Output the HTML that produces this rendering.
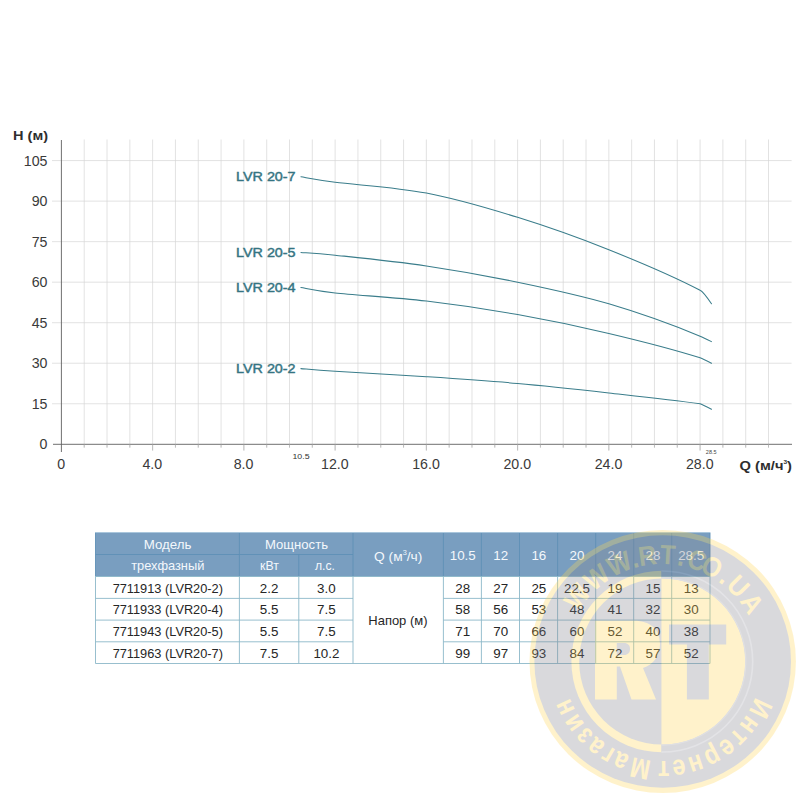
<!DOCTYPE html>
<html><head><meta charset="utf-8"><title>LVR 20</title>
<style>
html,body{margin:0;padding:0;background:#fff;}
body{width:800px;height:800px;overflow:hidden;font-family:"Liberation Sans",sans-serif;}
svg{display:block;}
text{font-family:"Liberation Sans",sans-serif;}
</style></head><body>
<svg width="800" height="800" viewBox="0 0 800 800">
<rect width="800" height="800" fill="#ffffff"/>

<g stroke="#d5d5d5" stroke-width="0.7" fill="none">
<line x1="84.21" y1="139.5" x2="84.21" y2="447.6"/>
<line x1="107.02" y1="139.5" x2="107.02" y2="447.6"/>
<line x1="129.83" y1="139.5" x2="129.83" y2="447.6"/>
<line x1="152.64" y1="139.5" x2="152.64" y2="450.5"/>
<line x1="175.45" y1="139.5" x2="175.45" y2="447.6"/>
<line x1="198.26" y1="139.5" x2="198.26" y2="447.6"/>
<line x1="221.07" y1="139.5" x2="221.07" y2="447.6"/>
<line x1="243.88" y1="139.5" x2="243.88" y2="450.5"/>
<line x1="266.69" y1="139.5" x2="266.69" y2="447.6"/>
<line x1="289.50" y1="139.5" x2="289.50" y2="447.6"/>
<line x1="312.31" y1="139.5" x2="312.31" y2="447.6"/>
<line x1="335.12" y1="139.5" x2="335.12" y2="450.5"/>
<line x1="357.93" y1="139.5" x2="357.93" y2="447.6"/>
<line x1="380.74" y1="139.5" x2="380.74" y2="447.6"/>
<line x1="403.55" y1="139.5" x2="403.55" y2="447.6"/>
<line x1="426.36" y1="139.5" x2="426.36" y2="450.5"/>
<line x1="449.17" y1="139.5" x2="449.17" y2="447.6"/>
<line x1="471.98" y1="139.5" x2="471.98" y2="447.6"/>
<line x1="494.79" y1="139.5" x2="494.79" y2="447.6"/>
<line x1="517.60" y1="139.5" x2="517.60" y2="450.5"/>
<line x1="540.41" y1="139.5" x2="540.41" y2="447.6"/>
<line x1="563.22" y1="139.5" x2="563.22" y2="447.6"/>
<line x1="586.03" y1="139.5" x2="586.03" y2="447.6"/>
<line x1="608.84" y1="139.5" x2="608.84" y2="450.5"/>
<line x1="631.65" y1="139.5" x2="631.65" y2="447.6"/>
<line x1="654.46" y1="139.5" x2="654.46" y2="447.6"/>
<line x1="677.27" y1="139.5" x2="677.27" y2="447.6"/>
<line x1="700.08" y1="139.5" x2="700.08" y2="450.5"/>
<line x1="722.89" y1="139.5" x2="722.89" y2="447.6"/>
<line x1="745.70" y1="139.5" x2="745.70" y2="447.6"/>
<line x1="768.51" y1="139.5" x2="768.51" y2="447.6"/>
<line x1="52" y1="403.77" x2="791.6" y2="403.77"/>
<line x1="52" y1="363.24" x2="791.6" y2="363.24"/>
<line x1="52" y1="322.71" x2="791.6" y2="322.71"/>
<line x1="52" y1="282.18" x2="791.6" y2="282.18"/>
<line x1="52" y1="241.65" x2="791.6" y2="241.65"/>
<line x1="52" y1="201.12" x2="791.6" y2="201.12"/>
<line x1="52" y1="160.59" x2="791.6" y2="160.59"/>
</g>
<g stroke="#606060" stroke-width="0.9" fill="none">
<line x1="61.40" y1="140" x2="61.40" y2="452"/>
<line x1="53" y1="444.30" x2="792" y2="444.30"/>
</g>
<g stroke="#b0b0b0" stroke-width="0.75" fill="none">
<line x1="84.21" y1="444.30" x2="84.21" y2="447.6"/>
<line x1="107.02" y1="444.30" x2="107.02" y2="447.6"/>
<line x1="129.83" y1="444.30" x2="129.83" y2="447.6"/>
<line x1="152.64" y1="444.30" x2="152.64" y2="450.5"/>
<line x1="175.45" y1="444.30" x2="175.45" y2="447.6"/>
<line x1="198.26" y1="444.30" x2="198.26" y2="447.6"/>
<line x1="221.07" y1="444.30" x2="221.07" y2="447.6"/>
<line x1="243.88" y1="444.30" x2="243.88" y2="450.5"/>
<line x1="266.69" y1="444.30" x2="266.69" y2="447.6"/>
<line x1="289.50" y1="444.30" x2="289.50" y2="447.6"/>
<line x1="312.31" y1="444.30" x2="312.31" y2="447.6"/>
<line x1="335.12" y1="444.30" x2="335.12" y2="450.5"/>
<line x1="357.93" y1="444.30" x2="357.93" y2="447.6"/>
<line x1="380.74" y1="444.30" x2="380.74" y2="447.6"/>
<line x1="403.55" y1="444.30" x2="403.55" y2="447.6"/>
<line x1="426.36" y1="444.30" x2="426.36" y2="450.5"/>
<line x1="449.17" y1="444.30" x2="449.17" y2="447.6"/>
<line x1="471.98" y1="444.30" x2="471.98" y2="447.6"/>
<line x1="494.79" y1="444.30" x2="494.79" y2="447.6"/>
<line x1="517.60" y1="444.30" x2="517.60" y2="450.5"/>
<line x1="540.41" y1="444.30" x2="540.41" y2="447.6"/>
<line x1="563.22" y1="444.30" x2="563.22" y2="447.6"/>
<line x1="586.03" y1="444.30" x2="586.03" y2="447.6"/>
<line x1="608.84" y1="444.30" x2="608.84" y2="450.5"/>
<line x1="631.65" y1="444.30" x2="631.65" y2="447.6"/>
<line x1="654.46" y1="444.30" x2="654.46" y2="447.6"/>
<line x1="677.27" y1="444.30" x2="677.27" y2="447.6"/>
<line x1="700.08" y1="444.30" x2="700.08" y2="450.5"/>
<line x1="722.89" y1="444.30" x2="722.89" y2="447.6"/>
<line x1="745.70" y1="444.30" x2="745.70" y2="447.6"/>
<line x1="768.51" y1="444.30" x2="768.51" y2="447.6"/>
</g>
<g fill="#3a3a3a" font-size="14.2px">
<text x="47.5" y="449.30" text-anchor="end">0</text>
<text x="47.5" y="408.77" text-anchor="end">15</text>
<text x="47.5" y="368.24" text-anchor="end">30</text>
<text x="47.5" y="327.71" text-anchor="end">45</text>
<text x="47.5" y="287.18" text-anchor="end">60</text>
<text x="47.5" y="246.65" text-anchor="end">75</text>
<text x="47.5" y="206.12" text-anchor="end">90</text>
<text x="47.5" y="165.59" text-anchor="end">105</text>
<text x="61.10" y="469.2" text-anchor="middle">0</text>
<text x="152.34" y="469.2" text-anchor="middle">4.0</text>
<text x="243.58" y="469.2" text-anchor="middle">8.0</text>
<text x="334.82" y="469.2" text-anchor="middle">12.0</text>
<text x="426.06" y="469.2" text-anchor="middle">16.0</text>
<text x="517.30" y="469.2" text-anchor="middle">20.0</text>
<text x="608.54" y="469.2" text-anchor="middle">24.0</text>
<text x="699.78" y="469.2" text-anchor="middle">28.0</text>
</g>
<text transform="translate(13,139.6) scale(1.12,1)" font-size="13px" font-weight="bold" fill="#2e2e2e">H (м)</text>
<text transform="translate(739.5,469.6) scale(1.09,1)" font-size="13.5px" font-weight="bold" fill="#2e2e2e">Q (м/ч<tspan font-size="6px" dy="-6">3</tspan><tspan dy="6">)</tspan></text>
<text transform="translate(301,459.2) scale(1.1,1)" font-size="8px" text-anchor="middle" fill="#333">10.5</text>
<text x="711.2" y="454" font-size="5.5px" text-anchor="middle" fill="#444">28.5</text>
<g stroke="#3a7d8b" stroke-width="1.05" fill="none" stroke-linecap="round" stroke-linejoin="round">
<path d="M300.90,176.80 C306.61,177.70 314.21,179.50 335.12,182.21 C356.03,184.91 395.95,187.16 426.36,193.01 C456.77,198.87 487.19,207.88 517.60,217.33 C548.01,226.79 578.43,237.60 608.84,249.76 C639.25,261.92 669.67,274.41 700.08,290.29 Q703.08,291.49 711.48,303.80"/>
<path d="M300.90,252.46 C306.61,252.91 314.21,252.91 335.12,255.16 C356.03,257.41 395.95,261.46 426.36,265.97 C456.77,270.47 487.19,275.88 517.60,282.18 C548.01,288.48 578.43,294.79 608.84,303.80 C639.25,312.80 669.67,323.52 700.08,336.22 Q703.08,337.42 711.48,341.62"/>
<path d="M300.90,287.58 C306.61,288.48 314.21,290.74 335.12,292.99 C356.03,295.24 395.95,297.49 426.36,301.09 C456.77,304.70 487.19,309.20 517.60,314.60 C548.01,320.01 578.43,326.31 608.84,333.52 C639.25,340.72 669.67,348.31 700.08,357.84 Q703.08,359.04 711.48,363.24"/>
<path d="M300.90,368.64 C306.61,369.09 314.21,370.00 335.12,371.35 C356.03,372.70 395.95,374.72 426.36,376.75 C456.77,378.78 487.19,380.80 517.60,383.50 C548.01,386.21 578.43,389.58 608.84,392.96 C639.25,396.34 669.67,399.54 700.08,403.77 Q703.08,404.97 711.48,409.17"/>
</g>
<g fill="#357482" stroke="#357482" stroke-width="0.45" font-size="13.6px">
<text transform="translate(295.6,181.20) scale(1.055,1)" text-anchor="end">LVR 20-7</text>
<text transform="translate(295.6,256.86) scale(1.055,1)" text-anchor="end">LVR 20-5</text>
<text transform="translate(295.6,291.98) scale(1.055,1)" text-anchor="end">LVR 20-4</text>
<text transform="translate(295.6,373.04) scale(1.055,1)" text-anchor="end">LVR 20-2</text>
</g>
<rect x="95.5" y="532.5" width="614.5" height="44.0" fill="#799ec0"/>
<g stroke="#5f90b6" stroke-width="0.9" fill="none">
<line x1="95.5" y1="554.5" x2="353.0" y2="554.5"/>
<line x1="95.5" y1="532.5" x2="95.5" y2="576.5"/>
<line x1="239.4" y1="532.5" x2="239.4" y2="576.5"/>
<line x1="298.8" y1="554.5" x2="298.8" y2="576.5"/>
<line x1="353.0" y1="532.5" x2="353.0" y2="576.5"/>
<line x1="443.4" y1="532.5" x2="443.4" y2="576.5"/>
<line x1="481.4" y1="532.5" x2="481.4" y2="576.5"/>
<line x1="519.5" y1="532.5" x2="519.5" y2="576.5"/>
<line x1="557.6" y1="532.5" x2="557.6" y2="576.5"/>
<line x1="595.7" y1="532.5" x2="595.7" y2="576.5"/>
<line x1="633.7" y1="532.5" x2="633.7" y2="576.5"/>
<line x1="671.7" y1="532.5" x2="671.7" y2="576.5"/>
<line x1="710.0" y1="532.5" x2="710.0" y2="576.5"/>
</g>
<line x1="95.5" y1="532.5" x2="710.0" y2="532.5" stroke="#a9c6dc" stroke-width="1"/>
<g stroke="#8cb8c8" stroke-width="0.9" fill="none">
<line x1="95.5" y1="576.5" x2="95.5" y2="663.5"/>
<line x1="239.4" y1="576.5" x2="239.4" y2="663.5"/>
<line x1="298.8" y1="576.5" x2="298.8" y2="663.5"/>
<line x1="353.0" y1="576.5" x2="353.0" y2="663.5"/>
<line x1="443.4" y1="576.5" x2="443.4" y2="663.5"/>
<line x1="481.4" y1="576.5" x2="481.4" y2="663.5"/>
<line x1="519.5" y1="576.5" x2="519.5" y2="663.5"/>
<line x1="557.6" y1="576.5" x2="557.6" y2="663.5"/>
<line x1="595.7" y1="576.5" x2="595.7" y2="663.5"/>
<line x1="633.7" y1="576.5" x2="633.7" y2="663.5"/>
<line x1="671.7" y1="576.5" x2="671.7" y2="663.5"/>
<line x1="710.0" y1="576.5" x2="710.0" y2="663.5"/>
<line x1="95.5" y1="576.5" x2="710.0" y2="576.5"/>
<line x1="95.5" y1="598.4" x2="353.0" y2="598.4"/>
<line x1="443.4" y1="598.4" x2="710.0" y2="598.4"/>
<line x1="95.5" y1="620.1" x2="353.0" y2="620.1"/>
<line x1="443.4" y1="620.1" x2="710.0" y2="620.1"/>
<line x1="95.5" y1="641.8" x2="353.0" y2="641.8"/>
<line x1="443.4" y1="641.8" x2="710.0" y2="641.8"/>
<line x1="95.5" y1="663.5" x2="710.0" y2="663.5"/>
</g>
<text transform="translate(167.60,548.70) scale(1.024,1)" text-anchor="middle" font-size="13px" fill="#f4f8fc">Модель</text>
<text transform="translate(167.80,570.00) scale(0.990,1)" text-anchor="middle" font-size="13px" fill="#f4f8fc">трехфазный</text>
<text transform="translate(296.50,548.70) scale(1.007,1)" text-anchor="middle" font-size="13px" fill="#f4f8fc">Мощность</text>
<text transform="translate(269.40,570.00) scale(0.943,1)" text-anchor="middle" font-size="13px" fill="#f4f8fc">кВт</text>
<text transform="translate(325.00,570.00) scale(0.939,1)" text-anchor="middle" font-size="13px" fill="#f4f8fc">л.с.</text>
<text transform="translate(398.2,560.6) scale(1.06,1)" text-anchor="middle" font-size="13px" fill="#f4f8fc">Q (м<tspan font-size="7px" dy="-5.5">3</tspan><tspan dy="5.5">/ч)</tspan></text>
<text transform="translate(462.70,560.20) scale(1.030,1)" text-anchor="middle" font-size="13px" fill="#f4f8fc">10.5</text>
<text transform="translate(500.75,560.20) scale(1.030,1)" text-anchor="middle" font-size="13px" fill="#f4f8fc">12</text>
<text transform="translate(538.85,560.20) scale(1.030,1)" text-anchor="middle" font-size="13px" fill="#f4f8fc">16</text>
<text transform="translate(576.95,560.20) scale(1.030,1)" text-anchor="middle" font-size="13px" fill="#f4f8fc">20</text>
<text transform="translate(615.00,560.20) scale(1.030,1)" text-anchor="middle" font-size="13px" fill="#f4f8fc">24</text>
<text transform="translate(653.00,560.20) scale(1.030,1)" text-anchor="middle" font-size="13px" fill="#f4f8fc">28</text>
<text transform="translate(691.15,560.20) scale(1.030,1)" text-anchor="middle" font-size="13px" fill="#f4f8fc">28.5</text>
<text transform="translate(167.80,592.50) scale(0.984,1)" text-anchor="middle" font-size="13px" fill="#262626">7711913 (LVR20-2)</text>
<text transform="translate(269.10,592.50) scale(1.030,1)" text-anchor="middle" font-size="13px" fill="#262626">2.2</text>
<text transform="translate(326.40,592.50) scale(1.030,1)" text-anchor="middle" font-size="13px" fill="#262626">3.0</text>
<text transform="translate(462.70,592.50) scale(1.030,1)" text-anchor="middle" font-size="13px" fill="#262626">28</text>
<text transform="translate(500.75,592.50) scale(1.030,1)" text-anchor="middle" font-size="13px" fill="#262626">27</text>
<text transform="translate(538.85,592.50) scale(1.030,1)" text-anchor="middle" font-size="13px" fill="#262626">25</text>
<text transform="translate(576.95,592.50) scale(1.030,1)" text-anchor="middle" font-size="13px" fill="#262626">22.5</text>
<text transform="translate(615.00,592.50) scale(1.030,1)" text-anchor="middle" font-size="13px" fill="#262626">19</text>
<text transform="translate(653.00,592.50) scale(1.030,1)" text-anchor="middle" font-size="13px" fill="#262626">15</text>
<text transform="translate(691.15,592.50) scale(1.030,1)" text-anchor="middle" font-size="13px" fill="#262626">13</text>
<text transform="translate(167.80,614.30) scale(0.984,1)" text-anchor="middle" font-size="13px" fill="#262626">7711933 (LVR20-4)</text>
<text transform="translate(269.10,614.30) scale(1.030,1)" text-anchor="middle" font-size="13px" fill="#262626">5.5</text>
<text transform="translate(326.40,614.30) scale(1.030,1)" text-anchor="middle" font-size="13px" fill="#262626">7.5</text>
<text transform="translate(462.70,614.30) scale(1.030,1)" text-anchor="middle" font-size="13px" fill="#262626">58</text>
<text transform="translate(500.75,614.30) scale(1.030,1)" text-anchor="middle" font-size="13px" fill="#262626">56</text>
<text transform="translate(538.85,614.30) scale(1.030,1)" text-anchor="middle" font-size="13px" fill="#262626">53</text>
<text transform="translate(576.95,614.30) scale(1.030,1)" text-anchor="middle" font-size="13px" fill="#262626">48</text>
<text transform="translate(615.00,614.30) scale(1.030,1)" text-anchor="middle" font-size="13px" fill="#262626">41</text>
<text transform="translate(653.00,614.30) scale(1.030,1)" text-anchor="middle" font-size="13px" fill="#262626">32</text>
<text transform="translate(691.15,614.30) scale(1.030,1)" text-anchor="middle" font-size="13px" fill="#262626">30</text>
<text transform="translate(167.80,636.00) scale(0.984,1)" text-anchor="middle" font-size="13px" fill="#262626">7711943 (LVR20-5)</text>
<text transform="translate(269.10,636.00) scale(1.030,1)" text-anchor="middle" font-size="13px" fill="#262626">5.5</text>
<text transform="translate(326.40,636.00) scale(1.030,1)" text-anchor="middle" font-size="13px" fill="#262626">7.5</text>
<text transform="translate(462.70,636.00) scale(1.030,1)" text-anchor="middle" font-size="13px" fill="#262626">71</text>
<text transform="translate(500.75,636.00) scale(1.030,1)" text-anchor="middle" font-size="13px" fill="#262626">70</text>
<text transform="translate(538.85,636.00) scale(1.030,1)" text-anchor="middle" font-size="13px" fill="#262626">66</text>
<text transform="translate(576.95,636.00) scale(1.030,1)" text-anchor="middle" font-size="13px" fill="#262626">60</text>
<text transform="translate(615.00,636.00) scale(1.030,1)" text-anchor="middle" font-size="13px" fill="#262626">52</text>
<text transform="translate(653.00,636.00) scale(1.030,1)" text-anchor="middle" font-size="13px" fill="#262626">40</text>
<text transform="translate(691.15,636.00) scale(1.030,1)" text-anchor="middle" font-size="13px" fill="#262626">38</text>
<text transform="translate(167.80,657.70) scale(0.984,1)" text-anchor="middle" font-size="13px" fill="#262626">7711963 (LVR20-7)</text>
<text transform="translate(269.10,657.70) scale(1.030,1)" text-anchor="middle" font-size="13px" fill="#262626">7.5</text>
<text transform="translate(326.40,657.70) scale(1.030,1)" text-anchor="middle" font-size="13px" fill="#262626">10.2</text>
<text transform="translate(462.70,657.70) scale(1.030,1)" text-anchor="middle" font-size="13px" fill="#262626">99</text>
<text transform="translate(500.75,657.70) scale(1.030,1)" text-anchor="middle" font-size="13px" fill="#262626">97</text>
<text transform="translate(538.85,657.70) scale(1.030,1)" text-anchor="middle" font-size="13px" fill="#262626">93</text>
<text transform="translate(576.95,657.70) scale(1.030,1)" text-anchor="middle" font-size="13px" fill="#262626">84</text>
<text transform="translate(615.00,657.70) scale(1.030,1)" text-anchor="middle" font-size="13px" fill="#262626">72</text>
<text transform="translate(653.00,657.70) scale(1.030,1)" text-anchor="middle" font-size="13px" fill="#262626">57</text>
<text transform="translate(691.15,657.70) scale(1.030,1)" text-anchor="middle" font-size="13px" fill="#262626">52</text>
<text transform="translate(397.90,625.00) scale(0.999,1)" text-anchor="middle" font-size="13px" fill="#262626">Напор (м)</text>
<g opacity="0.3">
<defs>
<clipPath id="cl"><rect x="461.5" y="461.5" width="200" height="400"/></clipPath>
<clipPath id="cr"><rect x="661.5" y="461.5" width="200" height="400"/></clipPath>
</defs>
<ellipse cx="662.7" cy="661.5" rx="133.2" ry="131.5" fill="#ffd755"/>
<ellipse cx="662.7" cy="661.5" rx="128.3" ry="126.3" fill="#84848e"/>
<circle cx="662.2" cy="661.5" r="90.8" fill="#ffd755" clip-path="url(#cl)"/>
<circle cx="662.2" cy="661.5" r="90.8" fill="#84848e" clip-path="url(#cr)"/>
<circle cx="662.2" cy="661.5" r="83.0" fill="#84848e" clip-path="url(#cl)"/>
<circle cx="662.2" cy="661.5" r="83.0" fill="#ffd755" clip-path="url(#cr)"/>
<circle cx="662.2" cy="661.5" r="90.5" fill="none" stroke="#a6a6b0" stroke-width="1.6" clip-path="url(#cr)"/>
<circle cx="662.2" cy="661.5" r="83.6" fill="none" stroke="#9a9aa4" stroke-width="1.2" clip-path="url(#cr)"/>
<path d="M669,624.4 H726.2 V644.4 H708.8 V699.4 H686.9 V644.4 H669 Z" fill="#84848e"/>
<path fill-rule="evenodd" fill="#ffd755" d="M595,620.8 H634 C651,620.8 660,630 660,644 C660,656 653.5,664.5 643,668 L656,699.6 H631.5 L620,666.6 H616.8 V699.6 H595 Z M616.8,643 V655 H624 C628,655 630,652.5 630,649 C630,645.5 628,643 624,643 Z"/>
<text transform="rotate(-52.60 662.2 661.5) translate(662.2,564.00) scale(1,1.1)" text-anchor="middle" font-size="25px" font-weight="bold" fill="#ffd755">W</text>
<text transform="rotate(-38.00 662.2 661.5) translate(662.2,564.00) scale(1,1.1)" text-anchor="middle" font-size="25px" font-weight="bold" fill="#ffd755">W</text>
<text transform="rotate(-23.70 662.2 661.5) translate(662.2,564.00) scale(1,1.1)" text-anchor="middle" font-size="25px" font-weight="bold" fill="#ffd755">W</text>
<text transform="rotate(-15.00 662.2 661.5) translate(662.2,564.00) scale(1,1.1)" text-anchor="middle" font-size="25px" font-weight="bold" fill="#ffd755">.</text>
<text transform="rotate(-7.90 662.2 661.5) translate(662.2,564.00) scale(1,1.1)" text-anchor="middle" font-size="25px" font-weight="bold" fill="#ffd755">R</text>
<text transform="rotate(3.10 662.2 661.5) translate(662.2,564.00) scale(1,1.1)" text-anchor="middle" font-size="25px" font-weight="bold" fill="#ffd755">T</text>
<text transform="rotate(10.50 662.2 661.5) translate(662.2,564.00) scale(1,1.1)" text-anchor="middle" font-size="25px" font-weight="bold" fill="#ffd755">.</text>
<text transform="rotate(19.00 662.2 661.5) translate(662.2,564.00) scale(1,1.1)" text-anchor="middle" font-size="25px" font-weight="bold" fill="#ffd755">C</text>
<text transform="rotate(27.80 662.2 661.5) translate(662.2,564.00) scale(1,1.1)" text-anchor="middle" font-size="25px" font-weight="bold" fill="#ffd755">O</text>
<text transform="rotate(36.80 662.2 661.5) translate(662.2,564.00) scale(1,1.1)" text-anchor="middle" font-size="25px" font-weight="bold" fill="#ffd755">.</text>
<text transform="rotate(45.40 662.2 661.5) translate(662.2,564.00) scale(1,1.1)" text-anchor="middle" font-size="25px" font-weight="bold" fill="#ffd755">U</text>
<text transform="rotate(57.10 662.2 661.5) translate(662.2,564.00) scale(1,1.1)" text-anchor="middle" font-size="25px" font-weight="bold" fill="#ffd755">A</text>
<text transform="rotate(115.50 662.2 661.5) translate(662.2,562.00) scale(1,1.2)" text-anchor="middle" font-size="23.5px" font-weight="bold" fill="#ffd755">И</text>
<text transform="rotate(125.97 662.2 661.5) translate(662.2,562.00) scale(1,1.2)" text-anchor="middle" font-size="23.5px" font-weight="bold" fill="#ffd755">н</text>
<text transform="rotate(134.62 662.2 661.5) translate(662.2,562.00) scale(1,1.2)" text-anchor="middle" font-size="23.5px" font-weight="bold" fill="#ffd755">т</text>
<text transform="rotate(142.90 662.2 661.5) translate(662.2,562.00) scale(1,1.2)" text-anchor="middle" font-size="23.5px" font-weight="bold" fill="#ffd755">е</text>
<text transform="rotate(152.13 662.2 661.5) translate(662.2,562.00) scale(1,1.2)" text-anchor="middle" font-size="23.5px" font-weight="bold" fill="#ffd755">р</text>
<text transform="rotate(161.74 662.2 661.5) translate(662.2,562.00) scale(1,1.2)" text-anchor="middle" font-size="23.5px" font-weight="bold" fill="#ffd755">н</text>
<text transform="rotate(170.92 662.2 661.5) translate(662.2,562.00) scale(1,1.2)" text-anchor="middle" font-size="23.5px" font-weight="bold" fill="#ffd755">е</text>
<text transform="rotate(179.20 662.2 661.5) translate(662.2,562.00) scale(1,1.2)" text-anchor="middle" font-size="23.5px" font-weight="bold" fill="#ffd755">т</text>
<text transform="rotate(191.60 662.2 661.5) translate(662.2,562.00) scale(1,1.2)" text-anchor="middle" font-size="23.5px" font-weight="bold" fill="#ffd755">М</text>
<text transform="rotate(202.60 662.2 661.5) translate(662.2,562.00) scale(1,1.2)" text-anchor="middle" font-size="23.5px" font-weight="bold" fill="#ffd755">а</text>
<text transform="rotate(210.30 662.2 661.5) translate(662.2,562.00) scale(1,1.2)" text-anchor="middle" font-size="23.5px" font-weight="bold" fill="#ffd755">г</text>
<text transform="rotate(218.00 662.2 661.5) translate(662.2,562.00) scale(1,1.2)" text-anchor="middle" font-size="23.5px" font-weight="bold" fill="#ffd755">а</text>
<text transform="rotate(226.34 662.2 661.5) translate(662.2,562.00) scale(1,1.2)" text-anchor="middle" font-size="23.5px" font-weight="bold" fill="#ffd755">з</text>
<text transform="rotate(235.15 662.2 661.5) translate(662.2,562.00) scale(1,1.2)" text-anchor="middle" font-size="23.5px" font-weight="bold" fill="#ffd755">и</text>
<text transform="rotate(244.80 662.2 661.5) translate(662.2,562.00) scale(1,1.2)" text-anchor="middle" font-size="23.5px" font-weight="bold" fill="#ffd755">н</text>
</g>
</svg></body></html>
